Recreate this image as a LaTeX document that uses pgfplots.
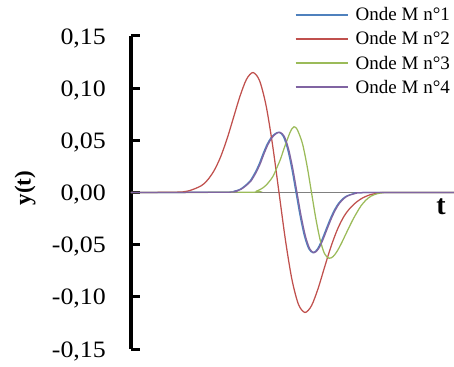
\documentclass[border=0pt]{standalone}
\usepackage{pgfplots}
\pgfplotsset{compat=1.18}
\usepackage{fontspec}
\setmainfont{Liberation Serif}
\newfontfamily\tickfont{Liberation Serif}[FakeStretch=1.1]
\definecolor{exblue}{HTML}{4F81BD}
\definecolor{exred}{HTML}{C0504D}
\definecolor{exgreen}{HTML}{9BBB59}
\definecolor{expurple}{HTML}{8064A2}
\begin{document}
\begin{tikzpicture}
\begin{axis}[
  scale only axis,
  width=323bp, height=313bp,
  xmin=0, xmax=323,
  ymin=-0.15, ymax=0.15,
  axis x line=none,
  axis y line=left,
  axis line style={-},
  y axis line style={line width=3.5bp, black},
  xtick=\empty,
  ytick={-0.15,-0.1,-0.05,0,0.05,0.1,0.15},
  tick align=inside,
  major tick length=9bp,
  major tick style={line width=3bp, black},
  /pgf/number format/assume math mode=true,
  /pgf/number format/fixed,
  /pgf/number format/fixed zerofill,
  /pgf/number format/precision=2,
  /pgf/number format/use comma,
  yticklabel style={font=\tickfont\fontsize{23.5bp}{28bp}\selectfont, anchor=east, inner sep=0pt, xshift=-25bp, yshift=-2bp},
  ylabel={\textbf{y(t)}},
  ylabel style={font=\fontsize{23bp}{27bp}\selectfont, at={(axis description cs:-0.328,0.514)}, anchor=center},
  legend style={at={(0.994,1.098)}, anchor=north east, draw=none, fill=none,
    inner sep=0pt, column sep=5bp, row sep=5.5bp,
    font=\fontsize{19bp}{22bp}\selectfont},
  legend cell align=left,
  legend image code/.code={\draw[#1, line width=2bp] (0bp,0bp) -- (52bp,0bp);},
  every axis plot/.append style={line width=1.25bp, smooth},
  clip=true,
]
\draw[gray, line width=1bp] (axis cs:0,0) -- (axis cs:323,0);
% Onde M n°1
\addplot[exblue] coordinates {
(0,0) (95,0.0003) (103,0.0012) (109,0.003) (114,0.0065) (119,0.011) (124,0.019) (128,0.027) (132,0.037) (136,0.046) (140,0.0525) (144,0.0563) (148,0.0577) (152.25,0.0539) (156.5,0.0420) (160.75,0.0231) (165,0) (169.25,-0.0231) (173.5,-0.0420) (177.75,-0.0539) (182,-0.0577) (186.25,-0.0544) (190.5,-0.0463) (194.75,-0.0360) (199,-0.0258) (203.25,-0.0170) (207.5,-0.0104) (211.75,-0.0060) (216,-0.0032) (224.5,-0.0007) (233,-0.0001) (323,0)
};
\addlegendentry{Onde M n°1}
% Onde M n°2
\addplot[exred] coordinates {
(0,0) (44,0.0003) (57,0.0014) (70,0.0063) (76.5,0.0119) (83,0.0208) (89.5,0.0339) (96,0.0513) (102.5,0.0718) (109,0.0923) (115.5,0.1085) (122,0.1150) (128.5,0.1073) (135,0.0837) (141.5,0.0460) (148,0) (154.5,-0.0460) (161,-0.0837) (167.5,-0.1073) (174,-0.1150) (180.5,-0.1085) (187,-0.0923) (193.5,-0.0718) (200,-0.0518) (206.5,-0.0352) (213,-0.0228) (219.5,-0.0145) (226,-0.0088) (232,-0.0050) (239,-0.0022) (246,-0.0008) (254,0) (323,0)
};
\addlegendentry{Onde M n°2}
% Onde M n°3
\addplot[exgreen] coordinates {
(0,0) (120,0.0003) (126,0.0015) (132,0.0045) (137,0.009) (142,0.0155) (146,0.024) (149.5,0.032) (153,0.042) (156,0.050) (159,0.0575) (161,0.0612) (163,0.063) (165.5,0.0615) (168,0.0565) (171.75,0.0458) (176.125,0.0252) (180.5,0) (184.875,-0.0252) (189.25,-0.0458) (193.625,-0.0588) (198,-0.063) (202,-0.0615) (206,-0.0565) (210,-0.0495) (214,-0.0415) (218,-0.0335) (222,-0.0258) (226,-0.019) (230,-0.0128) (235,-0.0072) (240,-0.0035) (246,-0.0012) (252,-0.0002) (258,0) (323,0)
};
\addlegendentry{Onde M n°3}
% Onde M n°4
\addplot[expurple] coordinates {
(0,0) (96,0.0003) (104,0.0012) (110,0.003) (115,0.0065) (120,0.011) (125,0.019) (129,0.027) (133,0.037) (137,0.046) (141,0.0525) (145,0.0563) (149,0.0577) (153.25,0.0539) (157.5,0.0420) (161.75,0.0231) (166,0) (170.25,-0.0231) (174.5,-0.0420) (178.75,-0.0539) (183,-0.0577) (187.25,-0.0544) (191.5,-0.0463) (195.75,-0.0360) (200,-0.0258) (204.25,-0.0170) (208.5,-0.0104) (212.75,-0.0060) (217,-0.0032) (225.5,-0.0007) (234,-0.0001) (323,0)
};
\addlegendentry{Onde M n°4}
\node[font=\bfseries\fontsize{28bp}{32bp}\selectfont] at (axis description cs:0.96,0.454) {t};
\end{axis}
\pgfresetboundingbox
\path[use as bounding box] (-131bp,-18bp) rectangle (323bp,349bp);
\end{tikzpicture}
\end{document}
